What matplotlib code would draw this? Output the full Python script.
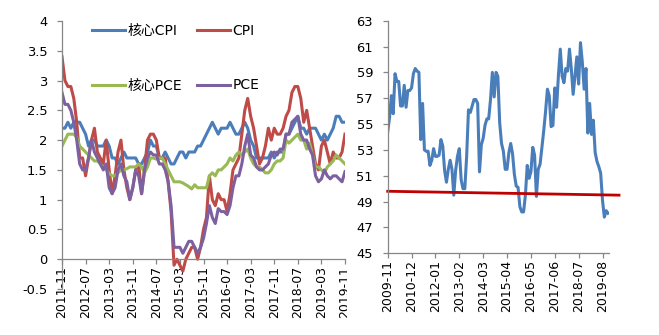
import matplotlib
matplotlib.use("Agg")
import matplotlib.pyplot as plt
from matplotlib.transforms import Bbox
import numpy as np
import pandas as pd

plt.rcParams['font.family'] = ['DejaVu Sans', 'Noto Sans CJK SC']

# ---------------- data: left panel (YoY %, 2011-11 .. 2019-11) ----------------
months_left = pd.period_range("2011-11", "2019-11", freq="M").strftime("%Y-%m").tolist()

core_cpi = [2.2, 2.2,
            2.3, 2.2, 2.3, 2.3, 2.3, 2.2, 2.1, 1.9, 2.0, 2.0, 1.9, 1.9,
            1.9, 2.0, 1.9, 1.7, 1.7, 1.6, 1.7, 1.8, 1.7, 1.7, 1.7, 1.7,
            1.6, 1.6, 1.7, 1.8, 2.0, 1.9, 1.9, 1.7, 1.7, 1.8, 1.7, 1.6,
            1.6, 1.7, 1.8, 1.8, 1.7, 1.8, 1.8, 1.8, 1.9, 1.9, 2.0, 2.1,
            2.2, 2.3, 2.2, 2.1, 2.2, 2.2, 2.2, 2.3, 2.2, 2.1, 2.1, 2.2,
            2.3, 2.2, 2.0, 1.9, 1.7, 1.7, 1.7, 1.7, 1.7, 1.8, 1.7, 1.8,
            1.8, 1.8, 2.1, 2.1, 2.2, 2.3, 2.4, 2.2, 2.2, 2.1, 2.2, 2.2,
            2.2, 2.1, 2.0, 2.1, 2.0, 2.1, 2.2, 2.4, 2.4, 2.3, 2.3]

cpi = [3.4, 3.0,
       2.9, 2.9, 2.7, 2.3, 1.7, 1.7, 1.4, 1.7, 2.0, 2.2, 1.8, 1.7,
       1.6, 2.0, 1.5, 1.1, 1.4, 1.8, 2.0, 1.5, 1.2, 1.0, 1.2, 1.5,
       1.6, 1.1, 1.5, 2.0, 2.1, 2.1, 2.0, 1.7, 1.7, 1.7, 1.3, 0.8,
       -0.1, 0.0, -0.1, -0.2, 0.0, 0.1, 0.2, 0.2, 0.0, 0.2, 0.5, 0.7,
       1.4, 1.0, 0.9, 1.1, 1.0, 1.0, 0.8, 1.1, 1.5, 1.6, 1.7, 2.1,
       2.5, 2.7, 2.4, 2.2, 1.9, 1.6, 1.7, 1.9, 2.2, 2.0, 2.2, 2.1,
       2.1, 2.2, 2.4, 2.5, 2.8, 2.9, 2.9, 2.7, 2.3, 2.5, 2.2, 1.9,
       1.6, 1.5, 1.9, 2.0, 1.8, 1.6, 1.8, 1.7, 1.7, 1.8, 2.1]

core_pce = [1.9, 2.0,
            2.1, 2.1, 2.1, 2.05, 1.9, 1.85, 1.8, 1.75, 1.7, 1.65, 1.65, 1.6,
            1.55, 1.5, 1.44, 1.4, 1.4, 1.45, 1.5, 1.5, 1.52, 1.55, 1.55, 1.55,
            1.6, 1.55, 1.45, 1.55, 1.7, 1.7, 1.68, 1.7, 1.7, 1.6, 1.5, 1.4,
            1.3, 1.3, 1.3, 1.28, 1.25, 1.22, 1.18, 1.25, 1.2, 1.2, 1.2, 1.2,
            1.4, 1.45, 1.4, 1.5, 1.5, 1.55, 1.6, 1.7, 1.65, 1.75, 1.8, 1.75,
            1.8, 1.85, 1.7, 1.6, 1.55, 1.55, 1.5, 1.45, 1.45, 1.5, 1.6, 1.65,
            1.65, 1.7, 2.0, 1.95, 2.0, 2.05, 2.1, 2.0, 2.0, 1.85, 1.95, 1.75,
            1.55, 1.55, 1.5, 1.45, 1.55, 1.6, 1.65, 1.75, 1.7, 1.65, 1.6]

pce = [2.8, 2.6,
       2.6, 2.5, 2.3, 2.0, 1.6, 1.5, 1.5, 1.7, 2.0, 1.8, 1.7, 1.6,
       1.5, 1.6, 1.2, 1.1, 1.2, 1.5, 1.6, 1.4, 1.3, 1.0, 1.2, 1.5,
       1.4, 1.1, 1.5, 1.7, 1.8, 1.75, 1.75, 1.6, 1.6, 1.5, 1.3, 0.9,
       0.2, 0.2, 0.2, 0.1, 0.2, 0.3, 0.3, 0.2, 0.1, 0.2, 0.35, 0.6,
       0.9, 0.7, 0.6, 0.85, 0.8, 0.8, 0.75, 0.9, 1.2, 1.4, 1.4, 1.6,
       1.9, 2.1, 1.75, 1.7, 1.55, 1.5, 1.5, 1.55, 1.6, 1.75, 1.8, 1.75,
       1.85, 1.85, 2.1, 2.1, 2.3, 2.35, 2.4, 2.1, 2.0, 2.0, 1.85, 1.75,
       1.4, 1.3, 1.35, 1.5, 1.4, 1.35, 1.4, 1.4, 1.35, 1.3, 1.47]

left_series_names = ["核心CPI", "CPI", "核心PCE", "PCE"]
left_colors = ["#4A7EBB", "#BE4B48", "#98B954", "#7D60A0"]

# ---------------- data: right panel (PMI, 2009-11 .. 2019-11) ----------------
months_right = pd.period_range("2009-11", "2019-11", freq="M").strftime("%Y-%m").tolist()

pmi = [54.4, 55.5, 57.2, 55.8, 58.9, 58.3, 58.3, 56.4, 56.4, 58.0,
       56.3, 57.6, 57.6, 57.8, 58.9, 59.3, 59.1, 59.0, 53.8, 56.6,
       53.0, 52.9, 52.9, 51.8, 52.2, 53.1, 52.5, 52.5, 52.6, 53.8,
       53.3, 51.4, 50.5, 51.5, 52.2, 51.5, 49.5, 51.4, 52.5, 53.1,
       50.7, 50.0, 50.0, 52.5, 56.1, 55.9, 56.4, 56.9, 56.9, 56.6,
       51.3, 53.4, 53.9, 54.9, 55.4, 55.4, 56.9, 59.0, 57.1, 59.0,
       58.7, 55.1, 53.5, 52.9, 51.5, 51.5, 52.8, 53.5, 52.7, 51.1,
       50.2, 50.1, 48.6, 48.2, 48.2, 49.5, 51.8, 50.8, 51.3, 53.2,
       52.6, 49.4, 51.5, 51.9, 53.2, 54.5, 56.0, 57.7, 57.2, 54.8,
       54.9, 57.8, 56.3, 58.8, 60.8, 58.7, 58.2, 59.3, 59.1, 60.8,
       59.3, 57.3, 58.7, 60.2, 58.1, 61.3, 59.8, 57.7, 59.3, 54.3,
       56.6, 54.2, 55.3, 52.8, 52.1, 51.7, 51.2, 49.1, 47.8, 48.3, 48.1]

# red reference line: value at start and end, and its month span
ref_values = [49.8, 49.5]
ref_months = [0, 126]

# ---------------- figure ----------------
W, H = 659, 335
fig = plt.figure(figsize=(W / 100, H / 100), dpi=100)

axis_grey = "#868686"
xtick_fs = 9
ytick_fs = 8.6

# ----- left panel -----
axL = fig.add_axes([62 / W, (H - 289) / H, (345 - 62) / W, (289 - 21) / H])
axL.spines["top"].set_visible(False)
axL.spines["right"].set_visible(False)
axL.spines["bottom"].set_position(("data", 0))
xl = np.arange(len(months_left))
lines = {}
for name, vals, col in zip(left_series_names, [core_cpi, cpi, core_pce, pce], left_colors):
    lines[name], = axL.plot(xl, vals, color=col, lw=2.2, label=name, solid_joinstyle="round")

axL.set_xlim(0, len(months_left) - 1)
axL.set_ylim(-0.5, 4)
yt = np.arange(-0.5, 4.01, 0.5)
axL.set_yticks(yt)
axL.set_yticklabels([f"{v:g}" for v in yt], fontsize=ytick_fs + 0.8)
xt = np.arange(0, len(months_left), 8)
axL.set_xticks(xt)
axL.set_xticklabels([months_left[i] for i in xt], rotation=90, fontsize=xtick_fs)
for s in ("left", "bottom"):
    axL.spines[s].set_color(axis_grey)
    axL.spines[s].set_linewidth(0.9)
axL.tick_params(axis="both", color=axis_grey, length=3.5, width=0.9, direction="out")
axL.tick_params(axis="x", pad=1.5)
axL.tick_params(axis="y", pad=7)

# the last left date label is cut by the right panel's area in the reference
clip = Bbox([[0, 0], [347, H]])
for lbl in axL.get_xticklabels():
    lbl.set_clip_box(clip)
    lbl.set_clip_on(True)

order = ["核心CPI", "核心PCE", "CPI", "PCE"]
leg = axL.legend([lines[n] for n in order], order, ncol=2, loc="upper left",
                 bbox_to_anchor=(0.105, 0.988),
                 frameon=False, fontsize=10, handlelength=2.4, handletextpad=0.15,
                 columnspacing=1.1, labelspacing=2.9, borderpad=0, borderaxespad=0)

# ----- right panel -----
axR = fig.add_axes([387.7 / W, (H - 253.3) / H, (609.3 - 387.7) / W, (253.3 - 20.7) / H])
xr = np.arange(len(months_right))
axR.plot(xr, pmi, color="#4A7EBB", lw=2.2, solid_joinstyle="round")
axR.plot(ref_months, ref_values, color="#C00000", lw=2.0, clip_on=False)
axR.set_xlim(0, len(months_right) - 0.3)
axR.set_ylim(45, 63)
yr = np.arange(45, 63.1, 2)
axR.set_yticks(yr)
axR.set_yticklabels([f"{v:g}" for v in yr], fontsize=ytick_fs + 0.8)
xrt = np.arange(0, len(months_right), 13)
axR.set_xticks(xrt)
axR.set_xticklabels([months_right[i] for i in xrt], rotation=90, fontsize=xtick_fs)
axR.spines["top"].set_visible(False)
axR.spines["right"].set_visible(False)
for s in ("left", "bottom"):
    axR.spines[s].set_color(axis_grey)
    axR.spines[s].set_linewidth(0.9)
axR.tick_params(axis="both", color=axis_grey, length=3.5, width=0.9, direction="out")
axR.tick_params(axis="x", pad=1.5)
axR.tick_params(axis="y", pad=7)

fig.savefig("out.png", dpi=100)
